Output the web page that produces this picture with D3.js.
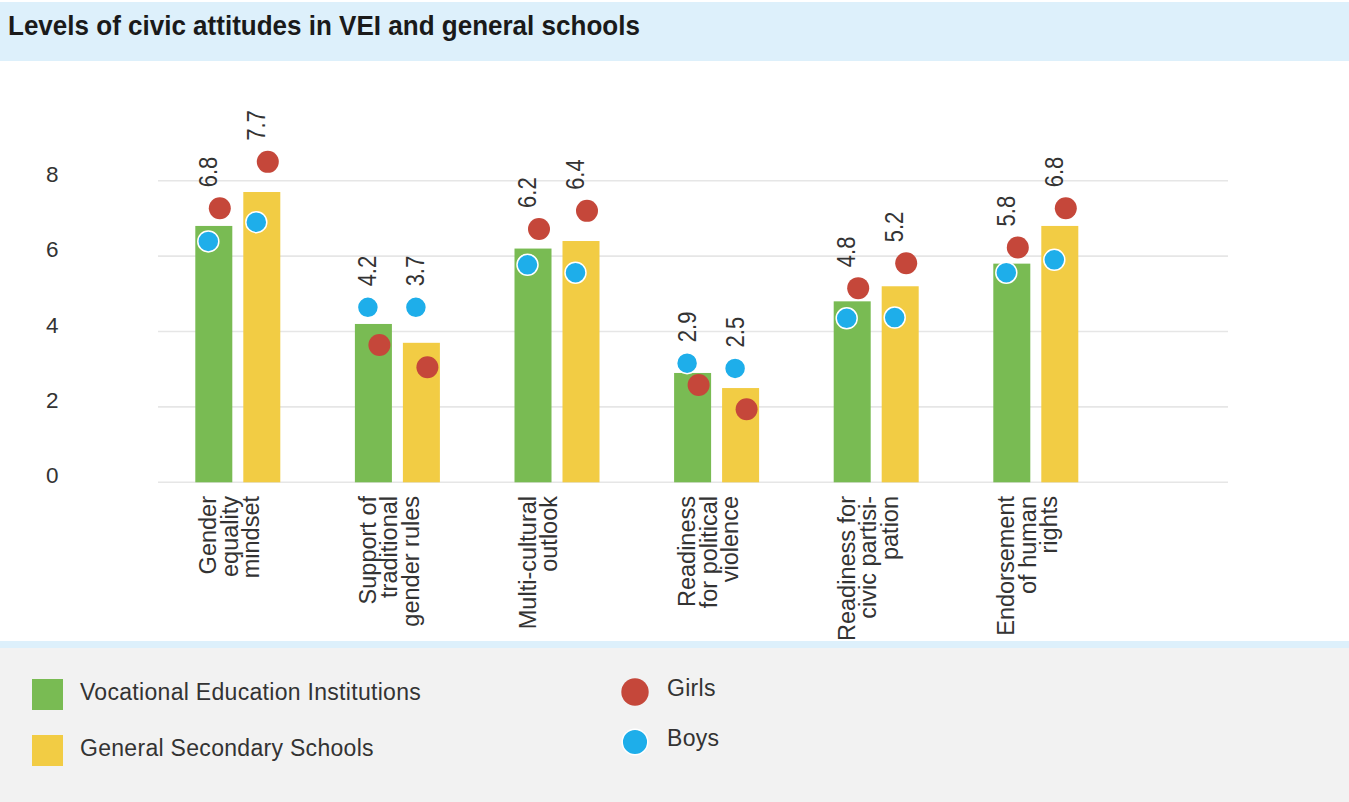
<!DOCTYPE html>
<html>
<head>
<meta charset="utf-8">
<script src="https://cdn.jsdelivr.net/npm/d3@7"></script>
<style>
  html, body { margin: 0; padding: 0; background: #ffffff; }
  svg { display: block; font-family: "Liberation Sans", Arial, Helvetica, sans-serif; }
</style>
</head>
<body>
<svg id="chart" width="1349" height="802"></svg>
<script>
// ---- data ----
const categories = [
  "Gender equality mindset",
  "Support of traditional gender rules",
  "Multi-cultural outlook",
  "Readiness for political violence",
  "Readiness for civic participation",
  "Endorsement of human rights"
];
const categoryLines = [
  ["Gender", "equality", "mindset"],
  ["Support of", "traditional", "gender rules"],
  ["Multi-cultural", "outlook"],
  ["Readiness", "for political", "violence"],
  ["Readiness for", "civic partisi-", "pation"],
  ["Endorsement", "of human", "rights"]
];
const schoolTypes = ["Vocational Education Institutions", "General Secondary Schools"];
const veiValues = [6.8, 4.2, 6.2, 2.9, 4.8, 5.8];
const gssValues = [7.7, 3.7, 6.4, 2.5, 5.2, 6.8];
const girlsVEI = [7.27, 3.64, 6.72, 2.58, 5.15, 6.23];
const girlsGSS = [8.5, 3.05, 7.2, 1.94, 5.81, 7.27];
const boysVEI = [6.39, 4.64, 5.77, 3.16, 4.35, 5.56];
const boysGSS = [6.9, 4.64, 5.56, 3.02, 4.37, 5.9];
const yTicks = [0, 2, 4, 6, 8];
const genderLabels = ["Girls", "Boys"];

// ---- styles ----
const C = {
  vei: "#79bb53",
  gss: "#f2cc44",
  girls: "#c5473a",
  boys: "#1eaeea",
  grid: "#e6e6e6",
  text: "#333333",
  band: "#ddf0fb",
  legendBg: "#f2f2f2"
};

// rows per category, built from the arrays above
const rows = categories.map((c, i) => ({
  cat: c,
  lines: categoryLines[i],
  bars: [
    { key: schoolTypes[0], value: veiValues[i], girls: girlsVEI[i], boys: boysVEI[i], color: C.vei },
    { key: schoolTypes[1], value: gssValues[i], girls: girlsGSS[i], boys: boysGSS[i], color: C.gss }
  ]
}));

const svg = d3.select("#chart");

// header band with title
svg.append("rect").attr("x", 0).attr("y", 2).attr("width", 1349).attr("height", 59).attr("fill", C.band);
svg.append("text")
  .attr("transform", "translate(8,35) scale(0.93,1)")
  .attr("font-size", 28).attr("font-weight", "bold").attr("fill", "#1a1a1a")
  .text("Levels of civic attitudes in VEI and general schools");

// scales
const plotLeft = 158, plotRight = 1228;
const y = d3.scaleLinear().domain([0, 8]).range([482.3, 180.7]);
const x0 = d3.scaleBand().domain(categories).range([plotLeft, plotLeft + 957.6]).padding(0);
const bw = x0.bandwidth();
const x1 = d3.scaleBand().domain(schoolTypes).range([bw / 2 - 42.5, bw / 2 + 42.5]).paddingInner(0.229).paddingOuter(0);

// gridlines + y tick labels
const yAxis = svg.append("g");
yAxis.selectAll("line").data(yTicks).join("line")
  .attr("x1", plotLeft).attr("x2", plotRight)
  .attr("y1", d => y(d)).attr("y2", d => y(d))
  .attr("stroke", C.grid).attr("stroke-width", 1.6);
yAxis.selectAll("text").data(yTicks).join("text")
  .attr("x", 46).attr("y", d => y(d) + 1)
  .attr("font-size", 22.5).attr("fill", C.text)
  .text(d => d);

// groups
const groups = svg.append("g").selectAll("g").data(rows).join("g")
  .attr("transform", d => `translate(${x0(d.cat)},0)`);

// bars
groups.selectAll("rect").data(d => d.bars).join("rect")
  .attr("x", d => x1(d.key)).attr("width", x1.bandwidth())
  .attr("y", d => y(d.value)).attr("height", d => y(0) - y(d.value))
  .attr("fill", d => d.color);

// value labels (rotated), above the highest mark of each bar
const dotR = 11;
groups.selectAll("text.val").data(d => d.bars).join("text")
  .attr("class", "val")
  .attr("transform", d => {
    const cx = x1(d.key) + x1.bandwidth() / 2;
    const top = y(Math.max(d.value, d.girls, d.boys)) - dotR - 10;
    return `translate(${cx + 3},${top}) rotate(-90) scale(0.88,1)`;
  })
  .attr("font-size", 25).attr("fill", C.text)
  .text(d => d.value.toFixed(1));

// dots: girls to the right of bar centre, boys to the left
groups.selectAll("circle.girls").data(d => d.bars).join("circle")
  .attr("class", "girls")
  .attr("cx", d => x1(d.key) + x1.bandwidth() / 2 + 6)
  .attr("cy", d => y(d.girls))
  .attr("r", dotR).attr("fill", C.girls);
groups.selectAll("circle.boys").data(d => d.bars).join("circle")
  .attr("class", "boys")
  .attr("cx", d => x1(d.key) + x1.bandwidth() / 2 - 5.5)
  .attr("cy", d => y(d.boys))
  .attr("r", 10.5).attr("fill", C.boys)
  .attr("stroke", "#ffffff").attr("stroke-width", 1.5);

// category labels (rotated, multi-line, top-aligned)
const lineStep = 21.5;
groups.each(function (d) {
  const g = d3.select(this);
  const c = bw / 2;
  d.lines.forEach((ln, i) => {
    g.append("text")
      .attr("transform", `translate(${c - lineStep + i * lineStep},496) rotate(-90)`)
      .attr("text-anchor", "end")
      .attr("font-size", 23.5).attr("fill", C.text)
      .text(ln);
  });
});

// legend panel
svg.append("rect").attr("x", 0).attr("y", 641).attr("width", 1349).attr("height", 7).attr("fill", C.band);
svg.append("rect").attr("x", 0).attr("y", 648).attr("width", 1349).attr("height", 154).attr("fill", C.legendBg);

const legendSchools = svg.append("g").selectAll("g").data(schoolTypes).join("g")
  .attr("transform", (d, i) => `translate(32,${679 + i * 56})`);
legendSchools.append("rect").attr("width", 31).attr("height", 31)
  .attr("fill", (d, i) => i === 0 ? C.vei : C.gss);
legendSchools.append("text").attr("x", 48).attr("y", 20.5)
  .attr("font-size", 23).attr("letter-spacing", 0.3).attr("fill", C.text)
  .text(d => d);

const legendGender = svg.append("g").selectAll("g").data(genderLabels).join("g")
  .attr("transform", (d, i) => `translate(635,${692 + i * 50})`);
legendGender.append("circle")
  .attr("r", (d, i) => i === 0 ? 13.7 : 12.8)
  .attr("fill", (d, i) => i === 0 ? C.girls : C.boys)
  .attr("stroke", (d, i) => i === 0 ? "none" : "#ffffff")
  .attr("stroke-width", 1.5);
legendGender.append("text").attr("x", 32).attr("y", 3.5)
  .attr("font-size", 23).attr("letter-spacing", 0.3).attr("fill", C.text)
  .text(d => d);
</script>
</body>
</html>
